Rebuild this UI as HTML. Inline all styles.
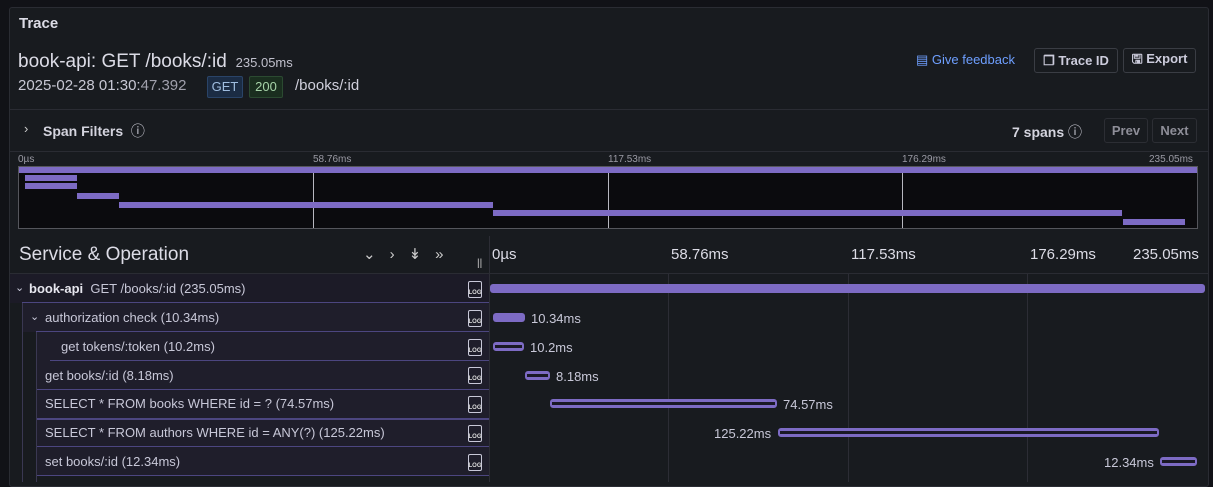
<!DOCTYPE html>
<html><head><meta charset="utf-8"><style>
*{box-sizing:border-box;margin:0;padding:0}
body{width:1213px;height:482px;background:#111217;font-family:"Liberation Sans",sans-serif;color:#ccccdc;position:relative;overflow:hidden}
.a{position:absolute;white-space:nowrap}
.panel{left:9px;top:7px;width:1200px;height:480px;background:#181b1f;border:1px solid #2a2c33;border-radius:3px}
.hl{height:1px;background:#2a2c33}
.btn{border:1px solid #3a3d44;border-radius:3px;font-size:13px;font-weight:bold;color:#ccccdc;display:flex;align-items:center;justify-content:center}
.row{left:0;width:489px;height:29px;background:#1e1e2a}
.lbl{font-size:13px;color:#c8c8d8}
.bar{background:#7d6bc4;border-radius:3px}
.ob{border:solid #7d6bc4;border-width:3px 2px;background:#1a1926;border-radius:3px}
.gv{width:1px;background:#2c2d35;top:274px;height:208px}
.dur{font-size:13px;color:#c8c8d8}
.log{width:14px;height:17px;border:1.5px solid #c8c8d8;border-radius:2px;font-size:6px;font-weight:bold;color:#ddd;display:flex;align-items:flex-end;justify-content:center;line-height:8px}
.mm{background:#7d6bc4;height:6px}
.tk{font-size:10px;color:#9a9aa4}
</style></head><body>
<div class="a panel"></div>
<div class="a" style="left:19px;top:15px;font-size:15px;font-weight:bold;color:#dcdce6">Trace</div>
<div class="a" style="left:18px;top:51px;font-size:19px;color:#dcdce6">book-api: GET /books/:id <span style="font-size:13px;color:#c0c0cc">&nbsp;235.05ms</span></div>
<div class="a" style="left:18px;top:77px;font-size:15px;color:#c8c8d4">2025-02-28 01:30:<span style="color:#a0a0ac">47.392</span></div>
<div class="a" style="left:207px;top:76px;width:36px;height:22px;background:#1b2c44;border:1px solid #2a4468;border-radius:2px;font-size:13px;color:#9fbde0;text-align:center;line-height:20px">GET</div>
<div class="a" style="left:249px;top:76px;width:34px;height:22px;background:#1a2e1f;border:1px solid #2b4a31;border-radius:2px;font-size:13px;color:#a6d3a8;text-align:center;line-height:20px">200</div>
<div class="a" style="left:295px;top:77px;font-size:15px;color:#d0d0dc">/books/:id</div>
<div class="a" style="left:916px;top:52px;font-size:13px;color:#6e9fff">&#9636; Give feedback</div>
<div class="a btn" style="left:1034px;top:48px;width:84px;height:25px">&#10064; Trace ID</div>
<div class="a btn" style="left:1123px;top:48px;width:73px;height:25px">&#128427; Export</div>
<div class="a hl" style="left:10px;top:109px;width:1198px"></div>
<div class="a" style="left:24px;top:121px;font-size:13px;color:#ccc">&#8250;</div>
<div class="a" style="left:43px;top:121px;font-size:14px;font-weight:bold;color:#d4d4de">Span Filters &nbsp;<span style="font-weight:normal">&#9432;</span></div>
<div class="a" style="left:1012px;top:122px;font-size:14px;font-weight:bold;color:#d4d4de">7 spans <span style="font-weight:normal">&#9432;</span></div>
<div class="a btn" style="left:1104px;top:118px;width:44px;height:25px;color:#8e8e98;border-color:#2c2e34">Prev</div>
<div class="a btn" style="left:1152px;top:118px;width:45px;height:25px;color:#8e8e98;border-color:#2c2e34">Next</div>
<div class="a hl" style="left:10px;top:151px;width:1198px"></div>
<div class="a tk" style="left:18px;top:154px">0µs</div>
<div class="a tk" style="left:313px;top:154px">58.76ms</div>
<div class="a tk" style="left:608px;top:154px">117.53ms</div>
<div class="a tk" style="left:902px;top:154px">176.29ms</div>
<div class="a tk" style="left:1149px;top:154px">235.05ms</div>
<div class="a" style="left:18px;top:166px;width:1180px;height:63px;background:#0b0b0e;border:1px solid #55565c"></div>
<div class="a" style="left:313px;top:167px;width:1px;height:61px;background:#b8b8c0"></div>
<div class="a" style="left:608px;top:167px;width:1px;height:61px;background:#b8b8c0"></div>
<div class="a" style="left:902px;top:167px;width:1px;height:61px;background:#b8b8c0"></div>
<div class="a mm" style="left:19px;top:167px;width:1178px"></div>
<div class="a mm" style="left:25px;top:175px;width:52px"></div>
<div class="a mm" style="left:25px;top:183px;width:52px"></div>
<div class="a mm" style="left:77px;top:193px;width:42px"></div>
<div class="a mm" style="left:119px;top:202px;width:374px"></div>
<div class="a mm" style="left:493px;top:210px;width:629px"></div>
<div class="a mm" style="left:1123px;top:219px;width:62px"></div>
<div class="a" style="left:10px;top:236px;width:1198px;height:38px;background:#181b1f"></div>
<div class="a" style="left:19px;top:244px;font-size:19px;color:#dcdce6">Service &amp; Operation</div>
<div class="a" style="left:363px;top:245px;font-size:15px;color:#ccc;letter-spacing:14px">&#8964;&#8250;&#8609;&#187;</div>
<div class="a" style="left:477px;top:258px;font-size:10px;color:#ccc">||</div>
<div class="a" style="left:489px;top:236px;width:1px;height:246px;background:#2c2d35"></div>
<div class="a" style="left:492px;top:246px;font-size:15px;color:#dcdce6">0µs</div>
<div class="a" style="left:671px;top:246px;font-size:15px;color:#dcdce6">58.76ms</div>
<div class="a" style="left:851px;top:246px;font-size:15px;color:#dcdce6">117.53ms</div>
<div class="a" style="left:1030px;top:246px;font-size:15px;color:#dcdce6">176.29ms</div>
<div class="a" style="left:1133px;top:246px;font-size:15px;color:#dcdce6">235.05ms</div>
<div class="a hl" style="left:10px;top:273px;width:1198px"></div>
<div class="a gv" style="left:668px"></div><div class="a gv" style="left:848px"></div><div class="a gv" style="left:1027px"></div>

<div class="a row" style="top:274px;left:10px;width:479px;background:#1c1b27"></div>
<div class="a" style="left:22px;top:302px;width:467px;height:1px;background:#4c4680"></div>
<div class="a" style="left:15px;top:281px;font-size:11px">&#8964;</div>
<div class="a lbl" style="left:29px;top:281px"><b style="color:#e6e6ee">book-api</b>&nbsp; GET /books/:id (235.05ms)</div>

<div class="a row" style="top:303px;left:22px;width:467px;background:#1f1e2b"></div>
<div class="a" style="left:36px;top:331px;width:453px;height:1px;background:#4c4680"></div>
<div class="a" style="left:30px;top:310px;font-size:11px">&#8964;</div>
<div class="a lbl" style="left:45px;top:310px">authorization check (10.34ms)</div>

<div class="a row" style="top:332px;left:36px;width:453px;background:#1f1e2b"></div>
<div class="a" style="left:50px;top:360px;width:439px;height:1px;background:#4c4680"></div>
<div class="a lbl" style="left:61px;top:339px">get tokens/:token (10.2ms)</div>

<div class="a row" style="top:361px;left:36px;width:453px;background:#1f1e2b"></div>
<div class="a" style="left:36px;top:389px;width:453px;height:1px;background:#4c4680"></div>
<div class="a lbl" style="left:45px;top:368px">get books/:id (8.18ms)</div>
<div class="a row" style="top:390px;left:36px;width:453px;background:#1f1e2b"></div>
<div class="a" style="left:36px;top:418px;width:453px;height:2px;background:#4c4680"></div>
<div class="a lbl" style="left:45px;top:396px">SELECT * FROM books WHERE id = ? (74.57ms)</div>
<div class="a row" style="top:420px;left:36px;width:453px;background:#1f1e2b"></div>
<div class="a" style="left:36px;top:446px;width:453px;height:1px;background:#4c4680"></div>
<div class="a lbl" style="left:45px;top:425px">SELECT * FROM authors WHERE id = ANY(?) (125.22ms)</div>
<div class="a row" style="top:447px;left:36px;width:453px;background:#1f1e2b"></div>
<div class="a" style="left:36px;top:475px;width:453px;height:1px;background:#4c4680"></div>
<div class="a lbl" style="left:45px;top:454px">set books/:id (12.34ms)</div>
<div class="a" style="left:22px;top:303px;width:1px;height:179px;background:#3a3852"></div>
<div class="a" style="left:36px;top:332px;width:1px;height:150px;background:#3a3852"></div>

<div class="a log" style="left:468px;top:281px">LOG</div>
<div class="a log" style="left:468px;top:310px">LOG</div>
<div class="a log" style="left:468px;top:339px">LOG</div>
<div class="a log" style="left:468px;top:367px">LOG</div>
<div class="a log" style="left:468px;top:396px">LOG</div>
<div class="a log" style="left:468px;top:425px">LOG</div>
<div class="a log" style="left:468px;top:454px">LOG</div>

<div class="a bar" style="left:490px;top:284px;width:715px;height:9px"></div>
<div class="a bar" style="left:493px;top:313px;width:32px;height:9px"></div>
<div class="a dur" style="left:531px;top:311px">10.34ms</div>
<div class="a ob" style="left:493px;top:342px;width:31px;height:9px"></div>
<div class="a dur" style="left:530px;top:340px">10.2ms</div>
<div class="a ob" style="left:525px;top:371px;width:25px;height:9px"></div>
<div class="a dur" style="left:556px;top:369px">8.18ms</div>
<div class="a ob" style="left:550px;top:399px;width:227px;height:9px"></div>
<div class="a dur" style="left:783px;top:397px">74.57ms</div>
<div class="a dur" style="left:714px;top:426px">125.22ms</div>
<div class="a ob" style="left:778px;top:428px;width:381px;height:9px"></div>
<div class="a dur" style="left:1104px;top:455px">12.34ms</div>
<div class="a ob" style="left:1160px;top:457px;width:37px;height:9px"></div>
</body></html>
